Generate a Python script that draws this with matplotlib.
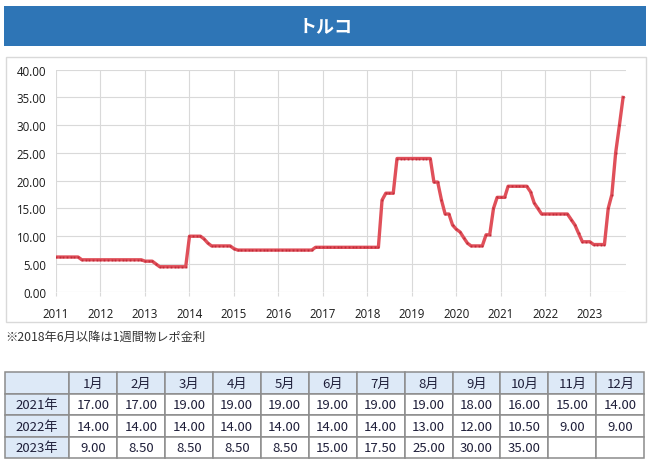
# トルコ policy rate chart with monthly table below.
import matplotlib
matplotlib.use("Agg")
import matplotlib.pyplot as plt
import matplotlib.dates as mdates
from matplotlib.patches import Rectangle
import numpy as np
import pandas as pd

plt.rcParams['font.family'] = ['Noto Sans CJK JP', 'DejaVu Sans']

# Month-end rates (%), Jan..Dec of each year
r2011 = [6.25, 6.25, 6.25, 6.25, 6.25, 6.25, 6.25, 5.75, 5.75, 5.75, 5.75, 5.75]
r2012 = [5.75] * 12
r2013 = [5.50, 5.50, 5.50, 5.00, 4.50, 4.50, 4.50, 4.50, 4.50, 4.50, 4.50, 4.50]
r2014 = [10.00, 10.00, 10.00, 10.00, 9.50, 8.75, 8.25, 8.25, 8.25, 8.25, 8.25, 8.25]
r2015 = [7.75, 7.50, 7.50, 7.50, 7.50, 7.50, 7.50, 7.50, 7.50, 7.50, 7.50, 7.50]
r2016 = [7.50, 7.50, 7.50, 7.50, 7.50, 7.50, 7.50, 7.50, 7.50, 7.50, 8.00, 8.00]
r2017 = [8.00] * 12
r2018 = [8.00, 8.00, 8.00, 8.00, 16.50, 17.75, 17.75, 17.75, 24.00, 24.00, 24.00, 24.00]
r2019 = [24.00, 24.00, 24.00, 24.00, 24.00, 24.00, 19.75, 19.75, 16.50, 14.00, 14.00, 12.00]
r2020 = [11.25, 10.75, 9.75, 8.75, 8.25, 8.25, 8.25, 8.25, 10.25, 10.25, 15.00, 17.00]
r2021 = [17.00, 17.00, 19.00, 19.00, 19.00, 19.00, 19.00, 19.00, 18.00, 16.00, 15.00, 14.00]
r2022 = [14.00, 14.00, 14.00, 14.00, 14.00, 14.00, 14.00, 13.00, 12.00, 10.50, 9.00, 9.00]
r2023 = [9.00, 8.50, 8.50, 8.50, 8.50, 15.00, 17.50, 25.00, 30.00, 35.00]

year_ticks = list(range(2011, 2024))
months = ['1月', '2月', '3月', '4月', '5月', '6月', '7月', '8月', '9月', '10月', '11月', '12月']
table_years = ['2021年', '2022年', '2023年']
table_rows = [r2021, r2022, r2023]

title = 'トルコ'
note = '※2018年6月以降は1週間物レポ金利'

rates = r2011 + r2012 + r2013 + r2014 + r2015 + r2016 + r2017 + r2018 + r2019 + r2020 + r2021 + r2022 + r2023
dates = pd.date_range('2011-01-01', periods=len(rates), freq='MS')

W, H = 652, 464
fig = plt.figure(figsize=(W / 100, H / 100), dpi=100)

def fx(px):
    return px / W

def fy(py):
    return 1 - py / H

# title banner
fig.patches.append(Rectangle((fx(4), fy(47)), fx(642), 40 / H, transform=fig.transFigure,
                             facecolor='#2e75b6', edgecolor='none'))
fig.text(fx(326), fy(27), title, color='white', fontsize=13, fontweight='bold',
         ha='center', va='center')

# chart frame
fig.patches.append(Rectangle((fx(6), fy(322.5)), fx(640), 264.5 / H, transform=fig.transFigure,
                             facecolor='none', edgecolor='#d9d9d9', linewidth=1.0))

ax = fig.add_axes([fx(56), fy(292.7), fx(570), (292.7 - 70.7) / H])
ax.plot(dates, rates, color='#e0505a', linewidth=2.4, solid_joinstyle='round',
        marker='s', markersize=1.3, markerfacecolor='#c02a38', markeredgecolor='none')

ax.set_ylim(0, 40)
ax.set_yticks(np.arange(0, 41, 5))
ax.yaxis.set_major_formatter('{x:.2f}')
ax.set_xlim(pd.Timestamp('2011-01-01'), pd.Timestamp('2023-10-25'))
ax.set_xticks([pd.Timestamp(f'{y}-01-01') for y in year_ticks])
ax.xaxis.set_major_formatter(mdates.DateFormatter('%Y'))

ax.grid(True, color='#d9d9d9', linewidth=0.8)
ax.set_axisbelow(True)
for s in ax.spines.values():
    s.set_visible(False)
ax.tick_params(axis='y', length=0, pad=7, labelsize=8.3, labelcolor='#1a1a1a')
ax.tick_params(axis='x', length=3, color='#d9d9d9', pad=8, labelsize=8.3, labelcolor='#1a1a1a')
for lab in ax.get_xticklabels() + ax.get_yticklabels():
    lab.set_fontfamily(['Open Sans', 'DejaVu Sans'])

fig.text(fx(5), fy(337), note, fontsize=8.8, color='#333333', ha='left', va='center')

# monthly table
tax = fig.add_axes([fx(5.3), fy(459.3), fx(639), 86 / H])
tax.axis('off')
cell_text = [[''] + months]
for yname, row in zip(table_years, table_rows):
    vals = [f'{v:.2f}' for v in row] + [''] * (12 - len(row))
    cell_text.append([yname] + vals)
head_bg = '#dde9f7'
colours = [[head_bg] * 13]
for _ in table_rows:
    colours.append([head_bg] + ['white'] * 12)
col_w = [63.7 / 639.7] + [48 / 639.7] * 12
tbl = tax.table(cellText=cell_text, cellColours=colours, colWidths=col_w,
                cellLoc='center', bbox=[0, 0, 1, 1])
tbl.auto_set_font_size(False)
for (r, c), cell in tbl.get_celld().items():
    cell.set_edgecolor('#8c8c8c')
    cell.set_linewidth(1.1)
    cell.get_text().set_fontsize(9.5)
    cell.get_text().set_color('#1f1f3a')

fig.savefig('out.png', dpi=100)
